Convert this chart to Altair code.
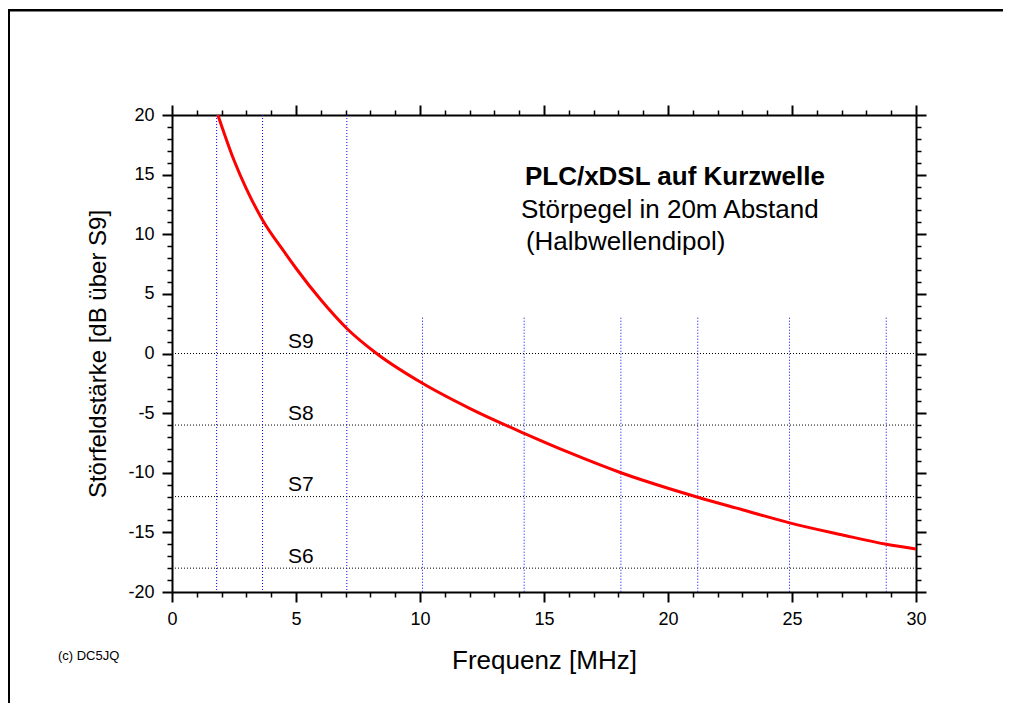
import altair as alt
import pandas as pd

# ---- data ----
freq = [1.85, 2.5, 3.0, 3.65, 4.5, 5.0, 6.0, 7.05, 8.25, 10.1, 12.0, 14.2, 16.0,
        18.1, 20.0, 21.2, 23.0, 24.9, 27.0, 28.8, 30.0]
level = [20.0, 16.2, 13.8, 11.2, 8.6, 7.15, 4.5, 2.1, 0.0, -2.5, -4.6, -6.7, -8.3,
         -10.0, -11.3, -12.05, -13.1, -14.2, -15.2, -16.0, -16.4]

band_freq = [1.8, 3.65, 7.05, 10.1, 14.2, 18.1, 21.2, 24.9, 28.8]
band_top = [20, 20, 20, 3, 3, 3, 3, 3, 3]
band_bottom = [-20] * 9

s_level = [0, -6, -12, -18]
s_label = ["S9", "S8", "S7", "S6"]
s_label_x = [5.2] * 4
s_label_y = [0.45, -5.55, -11.55, -17.55]

note_title = ["PLC/xDSL auf Kurzwelle"]
note_title_x = [14.23]
note_title_y = [14.13]
note_lines = ["Störpegel in 20m Abstand", "(Halbwellendipol)"]
note_lines_x = [14.07, 14.27]
note_lines_y = [11.33, 8.68]

credit = ["(c) DC5JQ"]
credit_x = [-4.6]
credit_y = [-25.7]

x_ticks = list(range(0, 31))
y_ticks = list(range(-20, 21))
x_domain = [0, 30]
y_domain = [-20, 20]

W, H = 744, 477
FONT = "Liberation Sans"
MAJOR = "datum.value % 5 === 0"

curve_df = pd.DataFrame({"f": freq, "v": level})
band_df = pd.DataFrame({"f": band_freq, "top": band_top, "bottom": band_bottom})
s_df = pd.DataFrame({"v": s_level, "label": s_label, "f": s_label_x, "ly": s_label_y})
title_df = pd.DataFrame({"t": note_title, "f": note_title_x, "v": note_title_y})
lines_df = pd.DataFrame({"t": note_lines, "f": note_lines_x, "v": note_lines_y})
credit_df = pd.DataFrame({"t": credit, "f": credit_x, "v": credit_y})
frame_df = pd.DataFrame({"k": [0]})


def mk_axis(orient, values, labels=True, title=None, **kw):
    args = dict(
        orient=orient,
        values=values,
        grid=False,
        domainColor="black",
        domainWidth=2,
        tickColor="black",
        tickSize={"condition": {"test": MAJOR, "value": 10}, "value": 5},
        tickWidth={"condition": {"test": MAJOR, "value": 2}, "value": 1.5},
        labels=labels,
        labelFont=FONT,
        labelFontSize=18,
        labelColor="black",
        labelExpr="datum.value % 5 === 0 ? '' + datum.value : ''",
        labelOverlap=False,
        labelFlush=False,
        labelBound=False,
        title=title,
    )
    if title is not None:
        args.update(titleFont=FONT, titleFontWeight="normal", titleColor="black")
    args.update(kw)
    return alt.Axis(**args)


xs = alt.Scale(domain=x_domain, nice=False, zero=False)
ys = alt.Scale(domain=y_domain, nice=False, zero=False)


def pos(xf, yf):
    return dict(x=alt.X(xf, scale=xs, axis=None), y=alt.Y(yf, scale=ys, axis=None))


# outer frame (top and left edges only; right/bottom lie beyond the picture)
frame_top = alt.Chart(frame_df).mark_rect(color="black").encode(
    x=alt.value(-164), x2=alt.value(831), y=alt.value(-106), y2=alt.value(-103.5))
frame_left = alt.Chart(frame_df).mark_rect(color="black").encode(
    x=alt.value(-164), x2=alt.value(-162), y=alt.value(-106), y2=alt.value(590))

# S-level dotted rules
s_rules = alt.Chart(s_df).mark_rule(color="black", strokeWidth=1, strokeDash=[1, 2]).encode(
    y=alt.Y("v:Q", scale=ys, axis=None),
    x=alt.value(0),
    x2=alt.value(W),
)

# band markers (blue dotted verticals) -- carries top/right axes
bands = alt.Chart(band_df).mark_rule(color="#0000ff", strokeWidth=1, strokeDash=[1, 2]).encode(
    x=alt.X("f:Q", scale=xs, axis=mk_axis("top", x_ticks, labels=False)),
    y=alt.Y("top:Q", scale=ys, axis=mk_axis("right", y_ticks, labels=False)),
    y2="bottom:Q",
)

s_text = alt.Chart(s_df).mark_text(font=FONT, fontSize=21, color="black",
                                    align="center", baseline="alphabetic").encode(
    text="label:N", **pos("f:Q", "ly:Q"))

curve = alt.Chart(curve_df).mark_line(color="#ff0000", strokeWidth=3,
                                      interpolate="monotone").encode(
    x=alt.X("f:Q", scale=xs,
            axis=mk_axis("bottom", x_ticks, title="Frequenz [MHz]", labelPadding=8,
                         titleFontSize=26,
                         titleX=W / 2, titleY=68, titleBaseline="middle")),
    y=alt.Y("v:Q", scale=ys,
            axis=mk_axis("left", y_ticks, title="Störfeldstärke [dB über S9]",
                         labelPadding=8, titleFontSize=24, titleX=-74, titleY=H / 2,
                         titleBaseline="middle", titleAngle=-90)),
)

title_text = alt.Chart(title_df).mark_text(font=FONT, fontSize=26, fontWeight="bold",
                                           color="black", align="left",
                                           baseline="alphabetic").encode(
    text="t:N", **pos("f:Q", "v:Q"))

lines_text = alt.Chart(lines_df).mark_text(font=FONT, fontSize=26, color="black",
                                           align="left", baseline="alphabetic").encode(
    text="t:N", **pos("f:Q", "v:Q"))

credit_text = alt.Chart(credit_df).mark_text(font=FONT, fontSize=13, color="black",
                                             align="left", baseline="alphabetic").encode(
    text="t:N", **pos("f:Q", "v:Q"))

chart = alt.layer(
    frame_top, frame_left, s_rules, bands, s_text, curve, title_text, lines_text,
    credit_text
).properties(
    width=W, height=H,
    autosize=alt.AutoSizeParams(type="none"),
    padding={"left": 164, "top": 107, "right": 87, "bottom": 111},
).configure_view(stroke=None).configure(background="white")

chart.save("out.html", embed_options={"renderer": "svg", "actions": False})
